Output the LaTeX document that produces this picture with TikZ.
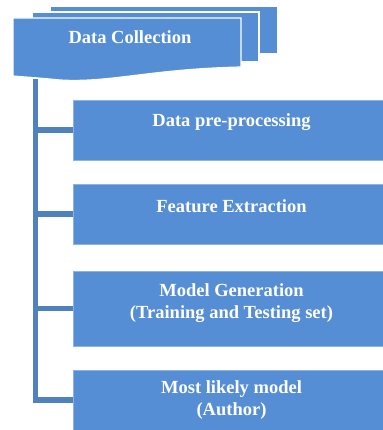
\documentclass[tikz,border=0pt]{standalone}
\usepackage{fontspec}
\setmainfont{Liberation Serif}
\usepackage{xcolor}
\definecolor{SheetBlue}{HTML}{558ED5}
\definecolor{SheetEdge}{HTML}{8DB3E2}
\definecolor{TrunkBlue}{HTML}{4F81BD}
\usetikzlibrary{positioning}

\begin{document}
\begin{tikzpicture}[
  x=1pt, y=-1pt,
  node distance=24pt,
  sheet/.style={fill=SheetBlue, draw=white, line width=1.2pt},
  box/.style={fill=SheetBlue, draw=SheetEdge, line width=0.6pt,
              minimum width=317pt, inner sep=0pt, outer sep=0pt},
  boxtext/.style={text=white, align=center,
                  font=\fontsize{18.5}{22}\selectfont\bfseries},
  branch/.style={draw=TrunkBlue, line width=5.5pt},
]
\useasboundingbox (0,0) rectangle (382,430);
% step boxes
\node[box, minimum height=60pt, anchor=north west] (prep) at (73,100) {};
\node[box, minimum height=60pt, below=of prep] (feat) {};
\node[box, minimum height=75pt, below=27pt of feat] (model) {};
\node[box, minimum height=60pt, below=of model] (likely) {};
\node[boxtext] (prep-t) at ([yshift=8pt]prep.center) {Data pre-processing};
\node[boxtext] (feat-t) at ([yshift=8pt]feat.center) {Feature Extraction};
\node[boxtext] (model-t) at ([yshift=5.5pt]model.center)
  {Model Generation\\(Training and Testing set)};
\node[boxtext] (likely-t) at (likely.center) {Most likely model\\(Author)};
% trunk and branches
\coordinate (spine) at (35.5,79);
\draw[branch] (spine) -- ([yshift=-2.75pt]spine |- likely.west);
\foreach \b in {prep,feat,model,likely}
  \draw[branch] (\b.west) -- (\b.west -| spine);
% stacked sheets
\draw[sheet] (50,6) rectangle (278,54);
\draw[sheet] (32,12) rectangle (259,62);
\draw[sheet] (13,18) -- (241,18) -- (241,67)
  .. controls (150,69) and (110,83) .. (60,80)
  .. controls (40,78) and (25,77) .. (13,76) -- cycle;
\node[boxtext] (collect) at (130,37) {Data Collection};
\end{tikzpicture}
\end{document}
